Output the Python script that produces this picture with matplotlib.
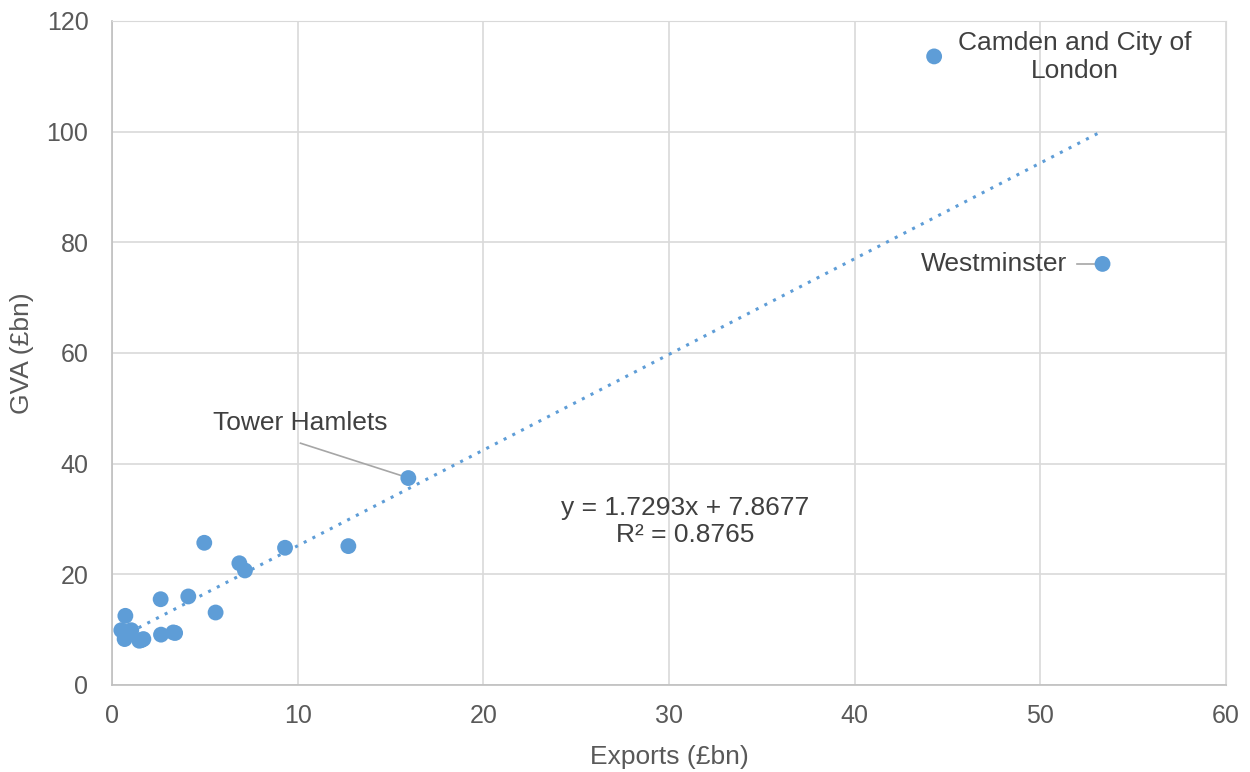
import matplotlib
matplotlib.use("Agg")
import matplotlib.pyplot as plt
import numpy as np

plt.rcParams['font.family'] = ['Liberation Sans', 'DejaVu Sans']

exports = [0.50, 1.04, 0.68, 0.72, 1.58, 1.69, 2.64, 3.30, 2.62, 4.11, 5.58,
           4.97, 6.86, 7.16, 9.32, 12.73, 15.96, 44.28, 53.35, 1.47, 3.40]
gva = [9.9, 9.9, 8.3, 12.5, 8.1, 8.3, 9.1, 9.5, 15.5, 16.0, 13.1,
       25.7, 22.0, 20.7, 24.8, 25.1, 37.4, 113.6, 76.1, 8.0, 9.4]
slope = 1.7293
intercept = 7.8677
r2 = 0.8765
xticks = [0, 10, 20, 30, 40, 50, 60]
yticks = [0, 20, 40, 60, 80, 100, 120]

blue = '#5E9DD7'
txt = '#595959'
fig = plt.figure(figsize=(12.5, 7.72), dpi=100)
ax = fig.add_axes([0.0896, 0.1127, 0.8912, 0.8601])
ax.set_xlim(0, 60)
ax.set_ylim(0, 120)
ax.set_xticks(xticks)
ax.set_yticks(yticks)
ax.grid(True, color='#D9D9D9', linewidth=1.2)
ax.set_axisbelow(True)
for s in ['top', 'right']:
    ax.spines[s].set_color('#D9D9D9')
for s in ['left', 'bottom']:
    ax.spines[s].set_color('#BFBFBF')
    ax.spines[s].set_linewidth(1.2)
ax.tick_params(length=0, labelsize=18, colors=txt)
ax.tick_params(axis='x', pad=14)
ax.tick_params(axis='y', pad=17)

xs = np.array([min(exports), max(exports)])
ax.plot(xs, slope * xs + intercept, linestyle=(0, (1, 2.2)), color=blue, linewidth=2.2, zorder=2)
ax.scatter(exports, gva, s=130, color=blue, zorder=3, edgecolors='none')

ax.set_xlabel('Exports (£bn)', fontsize=19, color=txt, labelpad=12)
ax.set_ylabel('GVA (£bn)', fontsize=19, color=txt, labelpad=9)

ann = '#404040'
ax.text(51.86, 113.5, 'Camden and City of\nLondon', ha='center', va='center', fontsize=19, color=ann, linespacing=1.2)
ax.text(51.45, 76.1, 'Westminster', ha='right', va='center', fontsize=19, color=ann)
ax.plot([52.0, 53.1], [76.1, 76.1], color='#A6A6A6', linewidth=1.2, zorder=2)
ax.text(10.12, 47.4, 'Tower Hamlets', ha='center', va='center', fontsize=19, color=ann)
ax.plot([10.15, 15.9], [43.7, 37.5], color='#A6A6A6', linewidth=1.2, zorder=2)
ax.text(30.86, 29.5, f'y = {slope}x + {intercept}\nR² = {r2}', ha='center', va='center', fontsize=19, color=ann, linespacing=1.15)

fig.savefig('out.png', dpi=100)
